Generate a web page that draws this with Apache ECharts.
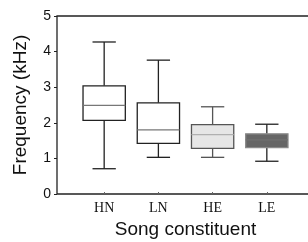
<!DOCTYPE html>
<html>
<head>
<meta charset="utf-8">
<script src="https://cdn.jsdelivr.net/npm/echarts@6/dist/echarts.min.js"></script>
<style>
  html, body { margin: 0; padding: 0; background: #fff; }
  #main { width: 308px; height: 242px; }
</style>
</head>
<body>
<div id="main"></div>
<script>
// song constituents and their frequency summaries (kHz)
var categories = ['HN', 'LN', 'HE', 'LE'];
var mins    = [0.71, 1.03, 1.03, 0.92];
var q1s     = [2.07, 1.42, 1.28, 1.30];
var medians = [2.49, 1.80, 1.67, 1.52];
var q3s     = [3.04, 2.56, 1.95, 1.69];
var maxs    = [4.27, 3.76, 2.45, 1.96];
var yTicks  = [0, 1, 2, 3, 4, 5];

// look of each box
var fills      = ['#ffffff', '#ffffff', '#e6e6e6', '#666666'];
var borders    = ['#222222', '#222222', '#555555', '#8a8a8a'];
var medColors  = ['#777777', '#777777', '#b0b0b0', '#707070'];
var whiskers   = ['#222222', '#222222', '#555555', '#222222'];

var chart = echarts.init(document.getElementById('main'), null, { renderer: 'canvas' });

var boxData = categories.map(function (c, i) {
  return [i + 1, mins[i], q1s[i], medians[i], q3s[i], maxs[i]];
});

function renderBox(params, api) {
  var i = params.dataIndex;
  var x = api.value(0);
  var half = api.size([0.78, 0])[0] / 2;   // box half width
  var cap = api.size([0.43, 0])[0] / 2;    // whisker cap half width
  var pMin = api.coord([x, api.value(1)]);
  var pQ1 = api.coord([x, api.value(2)]);
  var pMed = api.coord([x, api.value(3)]);
  var pQ3 = api.coord([x, api.value(4)]);
  var pMax = api.coord([x, api.value(5)]);
  var cx = pQ1[0];
  var wStyle = { stroke: whiskers[i], lineWidth: 1.3 };
  return {
    type: 'group',
    children: [
      { type: 'line', shape: { x1: cx, y1: pMax[1], x2: cx, y2: pQ3[1] }, style: wStyle },
      { type: 'line', shape: { x1: cx, y1: pQ1[1], x2: cx, y2: pMin[1] }, style: wStyle },
      { type: 'line', shape: { x1: cx - cap, y1: pMax[1], x2: cx + cap, y2: pMax[1] }, style: wStyle },
      { type: 'line', shape: { x1: cx - cap, y1: pMin[1], x2: cx + cap, y2: pMin[1] }, style: wStyle },
      {
        type: 'rect',
        shape: { x: cx - half, y: pQ3[1], width: half * 2, height: pQ1[1] - pQ3[1] },
        style: { fill: fills[i], stroke: borders[i], lineWidth: 1.3 }
      },
      {
        type: 'line',
        shape: { x1: cx - half, y1: pMed[1], x2: cx + half, y2: pMed[1] },
        style: { stroke: medColors[i], lineWidth: 1.3 }
      }
    ]
  };
}

var option = {
  animation: false,
  grid: {
    left: 57, top: 16, bottom: 48, right: -6,
    outerBoundsMode: 'none',
    containLabel: false,
    show: true, borderColor: '#222', borderWidth: 1.3, backgroundColor: 'transparent'
  },
  xAxis: {
    type: 'value',
    min: 0.13,
    max: 4.87,
    splitLine: { show: false },
    axisLine: { show: false },
    axisTick: { show: true, inside: true, length: 2, customValues: [1, 2, 3, 4], lineStyle: { color: '#666' } },
    axisLabel: {
      customValues: [1, 2, 3, 4],
      margin: 7,
      color: '#111',
      fontFamily: 'Liberation Serif',
      fontSize: 14,
      formatter: function (v) { return categories[Math.round(v) - 1] || ''; }
    },
    name: 'Song constituent',
    nameLocation: 'middle',
    nameGap: 25,
    nameTextStyle: { color: '#111', fontFamily: 'Liberation Sans', fontSize: 19 }
  },
  yAxis: {
    type: 'value',
    min: yTicks[0],
    max: yTicks[yTicks.length - 1],
    interval: 1,
    splitLine: { show: false },
    axisLine: { show: false },
    axisTick: { show: true, length: 3, lineStyle: { color: '#222' } },
    axisLabel: { margin: 6, color: '#111', fontFamily: 'Liberation Sans', fontSize: 14 },
    name: 'Frequency (kHz)',
    nameLocation: 'middle',
    nameGap: 27,
    nameTextStyle: { color: '#111', fontFamily: 'Liberation Sans', fontSize: 19 }
  },
  series: [{
    type: 'custom',
    renderItem: renderBox,
    encode: { x: 0, y: [1, 2, 3, 4, 5] },
    data: boxData
  }]
};

chart.setOption(option);
</script>
</body>
</html>
